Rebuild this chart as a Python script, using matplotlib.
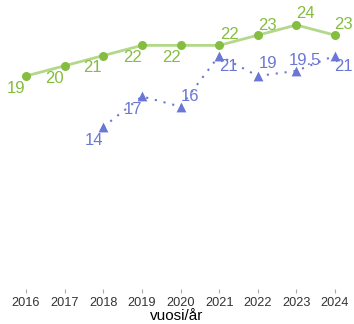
import matplotlib
matplotlib.use("Agg")
import matplotlib.pyplot as plt

plt.rcParams['font.family'] = ['Liberation Sans', 'DejaVu Sans']

years = [2016, 2017, 2018, 2019, 2020, 2021, 2022, 2023, 2024]
green_values = [19, 20, 21, 22, 22, 22, 23, 24, 23]
blue_years = [2018, 2019, 2020, 2021, 2022, 2023, 2024]
blue_values = [14, 17, 16, 21, 19, 19.5, 21]
green_labels = ["19", "20", "21", "22", "22", "22", "23", "24", "23"]
blue_labels = ["14", "17", "16", "21", "19", "19.5", "21"]
x_title = "vuosi/år"

GREEN_MARK = "#84bd3f"
GREEN_LINE = "#b3d88a"
BLUE = "#6b77d4"

# label offsets in pixels (dx, dy)
green_offsets = [(-10, -12.5), (-10, -13), (-11, -12), (-9, -12), (-9, -12),
                 (10, 11), (10, 10), (9, 11), (8, 11)]
blue_offsets = [(-9, -13), (-9, -13), (10, 10), (9, -11), (10, 12), (9, 10), (8, -11)]

fig = plt.figure(figsize=(3.54, 3.24), dpi=100)
ax = fig.add_axes([0, 35 / 324, 1, 289 / 324])

ax.plot(years, green_values, color=GREEN_LINE, lw=2, zorder=2)
ax.scatter(years, green_values, s=42, color=GREEN_MARK, zorder=3, linewidths=0)
ax.plot(blue_years, blue_values, color=BLUE, lw=1.5, ls=(0, (1, 3.3)), zorder=2)
ax.scatter(blue_years, blue_values, s=50, marker='^', color=BLUE, zorder=3, linewidths=0)

for x, y, t, (dx, dy) in zip(years, green_values, green_labels, green_offsets):
    ax.annotate(t, (x, y), xytext=(dx, dy), textcoords='offset pixels',
                ha='center', va='center', fontsize=12, color=GREEN_MARK, zorder=4)
for x, y, t, (dx, dy) in zip(blue_years, blue_values, blue_labels, blue_offsets):
    ax.annotate(t, (x, y), xytext=(dx, dy), textcoords='offset pixels',
                ha='center', va='center', fontsize=12, color=BLUE, zorder=4)

ax.set_xlim(2016 - 26 / 38.625, 2024 + 19 / 38.625)
ax.set_ylim(-1.88, 26.45)
ax.set_xticks(years)
ax.set_xticklabels([str(y) for y in years])
ax.set_yticks([])
for s in ax.spines.values():
    s.set_visible(False)
ax.tick_params(axis='x', length=3, width=0.8, color='#aaaaaa', labelsize=9.2,
               labelcolor='#333333', pad=2.5)
ax.set_xlabel(x_title, fontsize=11, color='black', labelpad=0.5)
ax.patch.set_alpha(0)

fig.savefig("out.png", dpi=100)
